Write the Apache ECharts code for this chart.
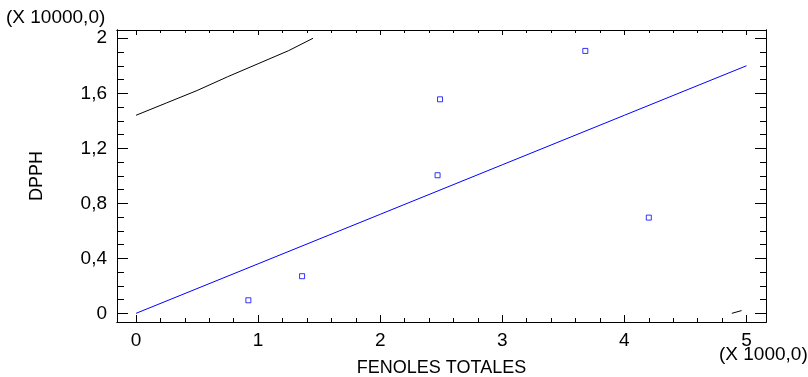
<!DOCTYPE html>
<html>
<head>
<meta charset="utf-8">
<script src="https://cdn.jsdelivr.net/npm/echarts@6/dist/echarts.min.js"></script>
<style>
    html, body { margin: 0; padding: 0; background: #fff; }
    #chart { width: 808px; height: 377px; }
</style>
</head>
<body>
<div id="chart"></div>
<script>
const FONT = "'Liberation Sans', Arial, sans-serif";
const LABEL_SIZE = 19;
const TITLE_SIZE = 18;

// observations (x in 1000s, y in 10000s)
const obsX = [0.92, 1.36, 2.47, 2.49, 3.68, 4.20];
const obsY = [0.095, 0.27, 1.004, 1.556, 1.908, 0.696];

// fitted line
const fitX = [0, 1, 2, 3, 4, 5];
const fitY = [0, 0.36, 0.72, 1.08, 1.44, 1.8];

// upper limit (clipped at top of axis)
const upperX = [0, 0.25, 0.5, 0.75, 1.0, 1.25, 1.45];
const upperY = [1.44, 1.53, 1.62, 1.72, 1.815, 1.91, 2.0];

// lower limit (only the piece above 0)
const lowerX = [4.88, 4.96];
const lowerY = [0.0, 0.02];

const xMajor = [0, 1, 2, 3, 4, 5];
const xMinor = [0.2, 0.4, 0.6, 0.8, 1.2, 1.4, 1.6, 1.8, 2.2, 2.4, 2.6, 2.8, 3.2, 3.4, 3.6, 3.8, 4.2, 4.4, 4.6, 4.8];
const yMajor = [0, 0.4, 0.8, 1.2, 1.6, 2];
const yMinor = [0.1, 0.2, 0.3, 0.5, 0.6, 0.7, 0.9, 1.0, 1.1, 1.3, 1.4, 1.5, 1.7, 1.8, 1.9];

const X_MIN = -0.156, X_MAX = 5.16;
const Y_MIN = -0.063, Y_MAX = 2.06;

const pairs = (xs, ys) => xs.map((x, i) => [x, ys[i]]);
const fmtY = (v) => String(Math.round(v * 10) / 10).replace(".", ",");

const baseX = (pos, ticks, len, opts) => ({
    type: "value",
    position: pos,
    min: X_MIN,
    max: X_MAX,
    splitLine: { show: false },
    axisLine: { show: true, onZero: false, lineStyle: { color: "#000", width: 1 } },
    axisTick: { show: true, inside: true, length: len, customValues: ticks, lineStyle: { color: "#000" } },
    axisLabel: { show: false },
    ...opts
});

const baseY = (pos, ticks, len, opts) => ({
    type: "value",
    position: pos,
    min: Y_MIN,
    max: Y_MAX,
    splitLine: { show: false },
    axisLine: { show: true, onZero: false, lineStyle: { color: "#000", width: 1 } },
    axisTick: { show: true, inside: true, length: len, customValues: ticks, lineStyle: { color: "#000" } },
    axisLabel: { show: false },
    ...opts
});

const chart = echarts.init(document.getElementById("chart"));

chart.setOption({
    animation: false,
    textStyle: { fontFamily: FONT },
    grid: { left: 117, right: 42, top: 30, bottom: 55, containLabel: false, outerBoundsMode: "none" },
    xAxis: [
        baseX("bottom", xMajor, 7, {
            name: "FENOLES TOTALES",
            nameLocation: "middle",
            nameGap: 37,
            nameTextStyle: { color: "#000", fontSize: TITLE_SIZE, fontFamily: FONT },
            axisLabel: {
                show: true, customValues: xMajor, margin: 9, color: "#000",
                fontSize: LABEL_SIZE, fontFamily: FONT, formatter: (v) => String(Math.round(v))
            }
        }),
        baseX("bottom", xMinor, 4, {}),
        baseX("top", xMajor, 5, {}),
        baseX("top", xMinor, 3, {})
    ],
    yAxis: [
        baseY("left", yMajor, 11, {
            name: "DPPH",
            nameLocation: "middle",
            nameGap: 71,
            nameTextStyle: { color: "#000", fontSize: TITLE_SIZE, fontFamily: FONT },
            axisLabel: {
                show: true, customValues: yMajor, margin: 10, color: "#000",
                fontSize: LABEL_SIZE, fontFamily: FONT, formatter: fmtY
            }
        }),
        baseY("left", yMinor, 7, {}),
        baseY("right", yMajor, 11, {}),
        baseY("right", yMinor, 6, {})
    ],
    graphic: [
        { type: "text", left: 6, top: 8, style: { text: "(X 10000,0)", fill: "#000", font: LABEL_SIZE + "px " + FONT } },
        { type: "text", left: 719, top: 345, style: { text: "(X 1000,0)", fill: "#000", font: LABEL_SIZE + "px " + FONT } }
    ],
    series: [
        {
            type: "line", data: pairs(fitX, fitY), showSymbol: false,
            lineStyle: { color: "#0000ff", width: 1 }, silent: true
        },
        {
            type: "line", data: pairs(upperX, upperY), showSymbol: false, smooth: false,
            lineStyle: { color: "#000", width: 1 }, silent: true
        },
        {
            type: "line", data: pairs(lowerX, lowerY), showSymbol: false,
            lineStyle: { color: "#000", width: 1 }, silent: true
        },
        {
            type: "scatter", data: pairs(obsX, obsY), symbol: "rect", symbolSize: 5,
            itemStyle: { color: "#fff", borderColor: "#0000ff", borderWidth: 1 }, silent: true
        }
    ]
});
</script>
</body>
</html>
